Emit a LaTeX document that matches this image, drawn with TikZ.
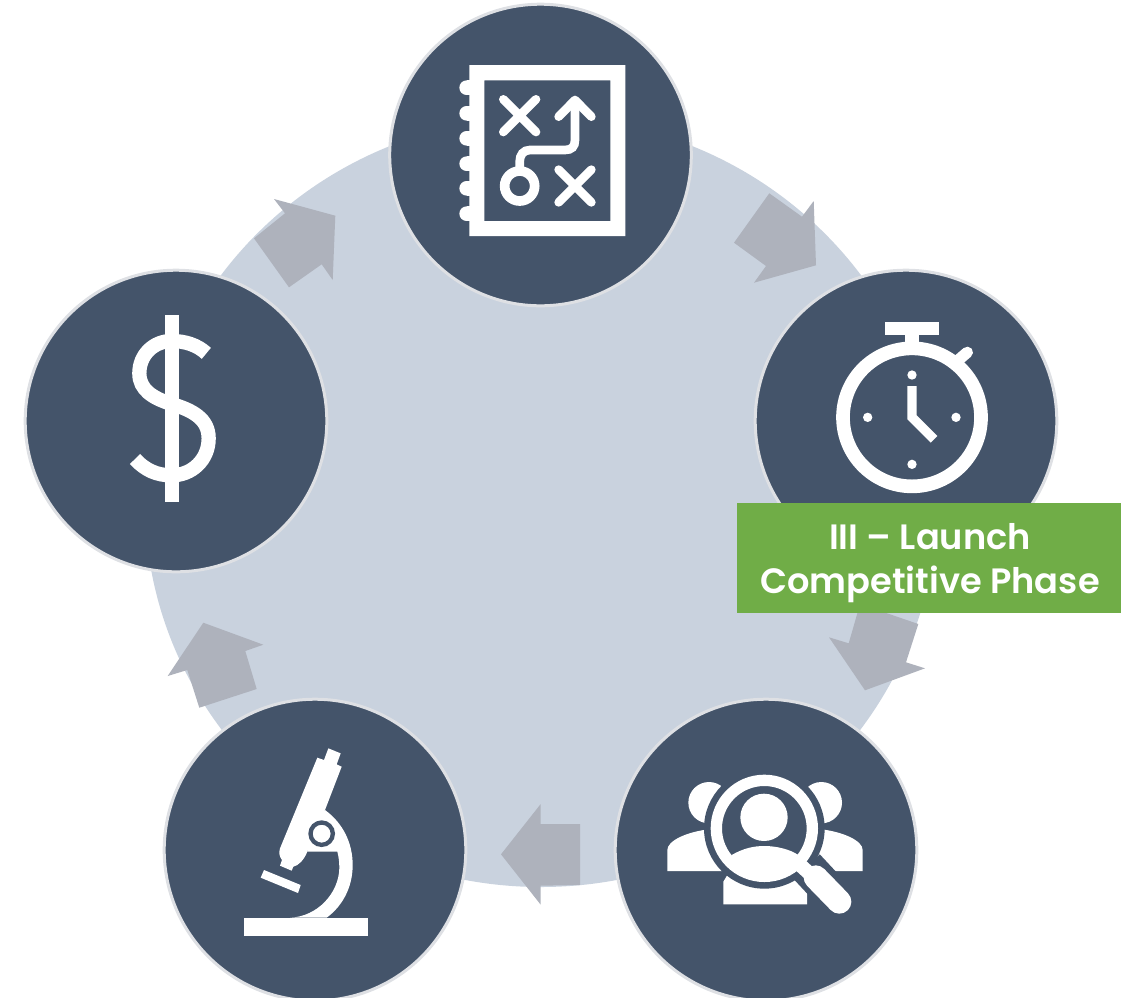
\documentclass[tikz,border=0pt]{standalone}
\usepackage{fontspec}
\setmainfont{Poppins}[BoldFont={Poppins SemiBold}]
\usetikzlibrary{shapes.geometric}
\definecolor{dark}{HTML}{44546A}
\definecolor{pale}{HTML}{C9D2DE}
\definecolor{rim}{HTML}{DEE0E4}
\definecolor{arrowgrey}{HTML}{AEB2BC}
\definecolor{labelgreen}{HTML}{70AD47}
\tikzset{
  hub/.style={circle,draw=rim,line width=2.25pt,fill=dark,minimum size=226.2pt,inner sep=0pt},
  backdrop/.style={ellipse,fill=pale,minimum width=594pt,minimum height=577.5pt,inner sep=0pt},
  flow/.style={fill=arrowgrey},
  ink/.style={fill=white},
  pen/.style={draw=white,line width=#1},
  tag/.style={fill=labelgreen,minimum width=288pt,minimum height=82.5pt,inner sep=0pt},
  tagtext/.style={text=white,inner sep=0pt,align=center,font=\fontsize{26.4}{33}\selectfont\bfseries},
  zoomed/.style={x=.25pt,y=-.25pt}
}
\begin{document}
\begin{tikzpicture}[x=.75pt,y=-.75pt]
\useasboundingbox (0,0) rectangle (1127,997);
\clip (0,0) rectangle (1127,997);
\node[backdrop] (disc) at (541,502) {};
% flow arrows
\fill[flow] (274,199) -- (285,213.3) -- (254,238.3) -- (289,287.3) -- (321.7,264.3) -- (332.7,280) -- (335.3,215.7) -- cycle;
\fill[flow] (769.3,193.3) -- (802,216.7) -- (813.7,201) -- (816,265.3) -- (754,282.7) -- (766,266) -- (734,242.7) -- cycle;
\fill[flow] (918.3,624) -- (906,662.3) -- (925,668.3) -- (865,690.3) -- (829,637.3) -- (848.7,643.3) -- (860,604) -- cycle;
\fill[flow] (540.7,804) -- (501,854.3) -- (540.7,904.7) -- (540.7,885.7) -- (580,885) -- (580,824) -- (540.7,824) -- cycle;
\fill[flow] (203.3,622.7) -- (263.3,644.7) -- (245.3,651) -- (256.7,689) -- (199.3,707.7) -- (187.3,670) -- (167.7,676) -- cycle;
% hubs
\node[hub] (plan) at (540.5,155) {};
\node[hub] (watch) at (906,421) {};
\node[hub] (people) at (766,850) {};
\node[hub] (scope) at (315,850) {};
\node[hub] (money) at (176,421) {};
% notebook icon
\begin{scope}[shift={(440,50)},zoomed]
  \fill[ink,even odd rule] (88,45) rectangle (556,558) (133,91) rectangle (511,513);
  \foreach \yy in {113,190,265,341,415,491}{
    \fill[ink] (80,\yy) circle[radius=22];
    \fill[ink] (80,\yy-22) rectangle (92,\yy+22);
  }
  \draw[pen=6.5pt,line cap=round] (190,148) -- (288,246) (288,148) -- (190,246);
  \draw[pen=6.5pt,line cap=round] (356,359) -- (454,457) (454,359) -- (356,457);
  \draw[pen=7.25pt] (239,408) circle[radius=45];
  \draw[pen=6.5pt] (239,355) -- (239,335) .. controls (239,315) and (250,300) .. (270,300) -- (375,300) .. controls (395,300) and (405,290) .. (405,270) -- (405,150);
  \draw[pen=6.5pt,line cap=round,line join=round] (356,200) -- (405,150) -- (454,200);
\end{scope}
% stopwatch icon
\begin{scope}[shift={(820,310)},zoomed]
  \draw[pen=10.25pt] (276,322) circle[radius=207];
  \fill[ink] (195,35) rectangle (356,74);
  \fill[ink] (256,74) rectangle (296,110);
  \draw[pen=8.5pt,line cap=round] (415,150) -- (442,127);
  \foreach \px/\py in {276/195,143/322,408/322,276/463}{
    \fill[ink] (\px,\py) circle[radius=14];
  }
  \draw[pen=7pt,miter limit=10] (276,228) -- (276,322) -- (342,388);
\end{scope}
% people and magnifier icon
\begin{scope}[shift={(650,760)},zoomed]
  \fill[ink] (177,128) circle[radius=62];
  \fill[ink] (514,128) circle[radius=62];
  \fill[ink] (52,333) -- (52,270) .. controls (52,242) and (110,216) .. (175,208) -- (260,208) -- (260,333) -- cycle;
  \fill[ink] (638,333) -- (638,270) .. controls (638,242) and (580,216) .. (515,208) -- (430,208) -- (430,333) -- cycle;
  \fill[ink] (220,433) -- (220,365) -- (235,340) -- (450,340) -- (471,400) -- (471,433) -- cycle;
  \fill[dark] (343,205) circle[radius=181];
  \draw[draw=dark,line width=27pt] (470,320) -- (568,425);
  \begin{scope}
    \clip (343,205) circle[radius=140];
    \fill[ink] (245,285) .. controls (280,265) and (310,258) .. (343,258) .. controls (380,258) and (420,268) .. (445,285) -- (445,400) -- (245,400) -- cycle;
  \end{scope}
  \draw[pen=8.5pt] (343,205) circle[radius=144];
  \fill[ink] (342,172) circle[radius=71];
  \draw[pen=10.5pt] (445,310) -- (500,360);
  \draw[pen=18pt,line cap=round] (497,352) -- (568,425);
\end{scope}
% microscope icon
\begin{scope}[shift={(230,735)},zoomed]
  \fill[ink] (42,548) rectangle (414,602);
  \fill[ink] (285,225) .. controls (340,265) and (368,325) .. (368,390) .. controls (368,460) and (335,515) .. (290,548) -- (180,548) .. controls (262,545) and (326,475) .. (328,400) .. controls (328,380) and (326,365) .. (322,350) -- (232,350) -- (250,280) -- cycle;
  \fill[ink] (262,68) -- (282,75) -- (295,40) -- (332,55) -- (320,88) -- (335,95) -- (285,225) -- (232,350) .. controls (222,375) and (205,392) .. (190,395) -- (185,407) -- (150,392) -- (156,375) .. controls (148,365) and (146,352) .. (150,340) -- cycle;
  \filldraw[draw=dark,line width=3.25pt,fill=white] (275,296) circle[radius=33.5];
  \fill[ink] (102,405) -- (212,450) -- (204,474) -- (92,428) -- cycle;
\end{scope}
% dollar icon
\begin{scope}[shift={(110,305)},zoomed]
  \fill[ink] (166,30) rectangle (206,590);
  \draw[pen=10.7pt] (289,145) .. controls (262,120) and (225,108) .. (185,108) .. controls (130,108) and (88,150) .. (88,205) .. controls (88,255) and (130,280) .. (185,297) .. controls (245,315) and (296,340) .. (296,400) .. controls (296,465) and (245,511) .. (185,511) .. controls (140,511) and (105,495) .. (75,462);
\end{scope}
% label
\node[tag] (label) at (929,558) {};
\node[tagtext] (labeltext) at (930,563) {III – Launch\\Competitive Phase};
\end{tikzpicture}
\end{document}
